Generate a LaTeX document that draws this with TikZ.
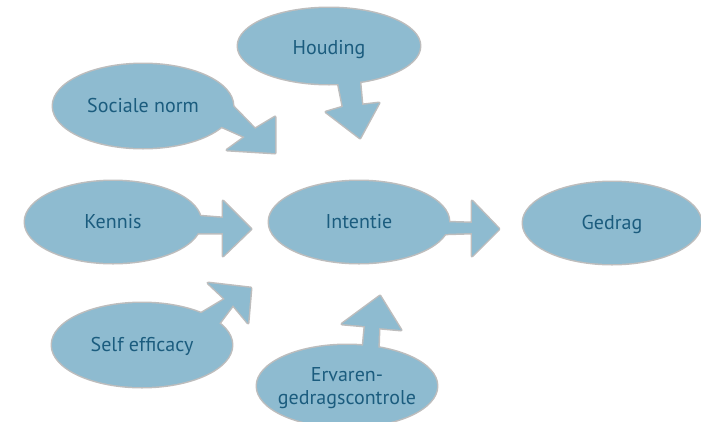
\documentclass[tikz,border=0pt]{standalone}
\usepackage{fontspec}
\setmainfont{PT Sans}
\usetikzlibrary{shapes.geometric}
\definecolor{bubble}{HTML}{8EBBD0}
\definecolor{rim}{HTML}{BDBDBD}
\definecolor{ink}{HTML}{1B5C7E}
\tikzset{
  rimline/.style={draw=rim, line width=3pt, line join=round},
  bub/.style={ellipse, fill=bubble, inner sep=0pt, text=ink,
    text height=13pt, text depth=0pt,
    font=\fontsize{20}{23}\selectfont},
  blockarrow/.style={fill=bubble}
}
\begin{document}
\begin{tikzpicture}[x=1pt,y=-1pt]
\useasboundingbox (0,0) rectangle (701,421);
% arrow shapes
\def\arrKennis{(185,215) -- (223,218) -- (223,201) -- (251,229) -- (223,256) -- (223,233) -- (185,233) -- cycle}
\def\arrIntentie{(440,222) -- (472,223) -- (472,201) -- (499,229) -- (472,256) -- (472,233) -- (440,234) -- cycle}
\def\arrHouding{(336,72) -- (343,107) -- (326,112) -- (360,138) -- (379,103) -- (362,105) -- (359,72) -- cycle}
\def\arrErvaren{(362,358) -- (365,326) -- (342,324) -- (380,296) -- (401,330) -- (379,328) -- (378,358) -- cycle}
\def\arrSociale{(222,95) -- (255,129) -- (275,117) -- (275,153) -- (227,150) -- (245,137) -- (200,117) -- cycle}
\def\arrSelf{(190,320) -- (225,299) -- (208,283) -- (251,288) -- (248,323) -- (233,305) -- (212,333) -- cycle}
% outline layer
\draw[rimline] (329,46) ellipse [x radius=91, y radius=38];
\draw[rimline] (143,106) ellipse [x radius=90, y radius=42];
\draw[rimline] (113,222) ellipse [x radius=88, y radius=41];
\draw[rimline] (359,222) ellipse [x radius=90, y radius=41];
\draw[rimline] (612,223) ellipse [x radius=89, y radius=41];
\draw[rimline] (142,345) ellipse [x radius=90, y radius=42];
\draw[rimline] (347,386) ellipse [x radius=90, y radius=41];
\draw[rimline] \arrKennis;
\draw[rimline] \arrIntentie;
\draw[rimline] \arrHouding;
\draw[rimline] \arrErvaren;
\draw[rimline] \arrSociale;
\draw[rimline] \arrSelf;
% fill layer
\fill[blockarrow] \arrKennis;
\fill[blockarrow] \arrIntentie;
\fill[blockarrow] \arrHouding;
\fill[blockarrow] \arrErvaren;
\fill[blockarrow] \arrSociale;
\fill[blockarrow] \arrSelf;
\node[bub, minimum width=182pt, minimum height=76pt, text height=16pt] (houding) at (329,46) {Houding};
\node[bub, minimum width=180pt, minimum height=84pt] (sociale) at (143,106) {Sociale norm};
\node[bub, minimum width=176pt, minimum height=82pt] (kennis) at (113,222) {Kennis};
\node[bub, minimum width=180pt, minimum height=82pt] (intentie) at (359,222) {Intentie};
\node[bub, minimum width=178pt, minimum height=82pt] (gedrag) at (612,223) {Gedrag};
\node[bub, minimum width=180pt, minimum height=84pt] (self) at (142,345) {Self efficacy};
\node[bub, minimum width=180pt, minimum height=82pt, text height=0pt] (ervaren) at (347,386)
  {\makebox[0pt]{\raisebox{-7.5pt}[0pt][0pt]{\begin{tabular}{@{}c@{}}Ervaren-\\gedragscontrole\end{tabular}}}};
\end{tikzpicture}
\end{document}
